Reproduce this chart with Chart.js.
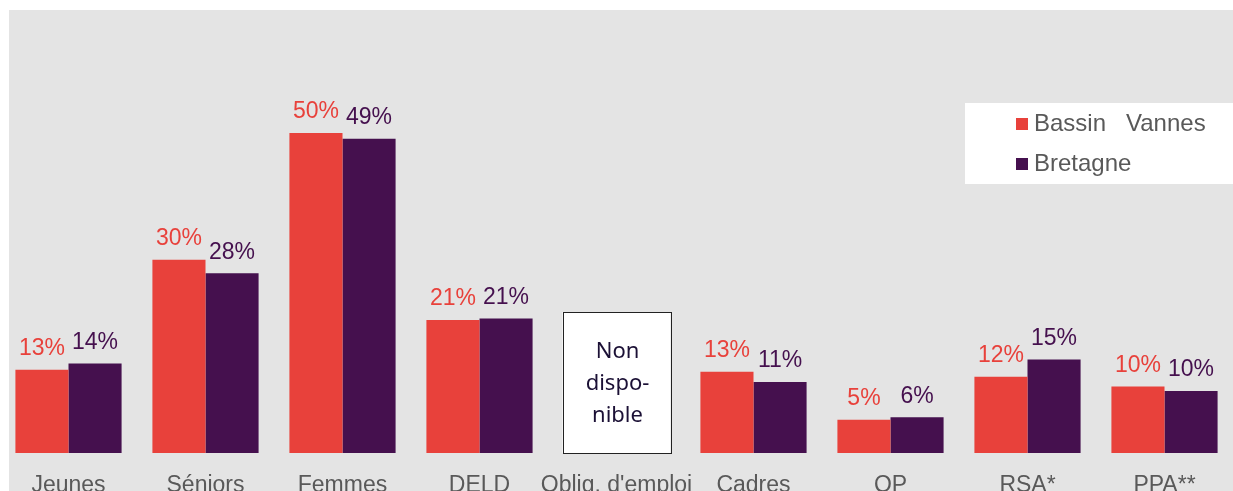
<!DOCTYPE html>
<html>
<head>
<meta charset="utf-8">
<script src="https://cdn.jsdelivr.net/npm/chart.js@4.4.0/dist/chart.umd.min.js"></script>
<style>
  html, body { margin: 0; padding: 0; background: #fff; }
  #wrap { width: 1233px; height: 491px; position: relative; }
</style>
</head>
<body>
<div id="wrap"><canvas id="chart"></canvas></div>
<script>
// values (percent)
const categories = ['Jeunes', 'Séniors', 'Femmes', 'DELD', "Oblig. d'emploi", 'Cadres', 'QP', 'RSA*', 'PPA**'];
const bassinVannes = [13, 30.2, 50, 20.8, 0, 12.7, 5.2, 11.9, 10.4];
const bretagne = [14, 28.1, 49.1, 21, 0, 11.1, 5.6, 14.6, 9.7];
const missingIndex = 4; // "Non disponible"
const missingText = ['Non', 'dispo-', 'nible'];

const RED = '#E8413B';
const PURPLE = '#45104E';
const GREY_TEXT = '#595959';

// grey panel behind everything
const panelBg = {
    id: 'panelBg',
    beforeDraw(chart) {
        const c = chart.ctx;
        c.save();
        c.fillStyle = '#E4E4E4';
        c.fillRect(9, 10, chart.width - 9, chart.height - 10);
        c.restore();
    }
};

// value labels above bars + the "non disponible" box
const barLabels = {
    id: 'barLabels',
    afterDatasetsDraw(chart) {
        const c = chart.ctx;
        c.save();
        c.font = '23px "Liberation Sans", Arial, sans-serif';
        c.textAlign = 'center';
        c.textBaseline = 'middle';
        chart.data.datasets.forEach((ds, i) => {
            const meta = chart.getDatasetMeta(i);
            meta.data.forEach((bar, j) => {
                if (j === missingIndex) return;
                c.fillStyle = ds.backgroundColor;
                c.fillText(Math.round(ds.data[j]) + '%', bar.x, bar.y - 21);
            });
        });

        // box over the unavailable category
        const cx = chart.scales.x.getPixelForValue(missingIndex);
        const bottom = chart.scales.y.getPixelForValue(0);
        const bw = 108, bh = 141;
        c.fillStyle = '#fff';
        c.fillRect(cx - bw / 2, bottom - bh, bw, bh);
        c.strokeStyle = '#222';
        c.lineWidth = 1;
        c.strokeRect(Math.round(cx - bw / 2) + 0.5, bottom - bh + 0.5, bw, bh);
        c.fillStyle = '#1B1035';
        c.font = '22px "Noto Sans", sans-serif';
        missingText.forEach((t, k) => {
            c.fillText(t, cx + 1, bottom - bh + 40 + k * 32);
        });
        c.restore();
    }
};

// legend in a white box at the top right
const boxLegend = {
    id: 'boxLegend',
    afterDraw(chart) {
        const c = chart.ctx;
        c.save();
        c.fillStyle = '#fff';
        c.fillRect(965, 103, chart.width - 965, 81);
        c.font = '24px "Liberation Sans", Arial, sans-serif';
        c.textBaseline = 'middle';
        c.textAlign = 'left';
        chart.data.datasets.forEach((ds, i) => {
            const y = 124 + i * 40;
            c.fillStyle = ds.backgroundColor;
            c.fillRect(1016, y - 6, 12, 12);
            c.fillStyle = GREY_TEXT;
            c.fillText(ds.label, 1034, y);
        });
        c.restore();
    }
};

new Chart(document.getElementById('chart'), {
    type: 'bar',
    data: {
        labels: categories,
        datasets: [
            { label: 'Bassin   Vannes', data: bassinVannes, backgroundColor: RED },
            { label: 'Bretagne', data: bretagne, backgroundColor: PURPLE }
        ]
    },
    options: {
        responsive: true,
        maintainAspectRatio: false,
        animation: false,
        layout: { padding: { top: 69, left: 0, right: 0, bottom: 0 } },
        datasets: { bar: { categoryPercentage: 0.775, barPercentage: 1 } },
        plugins: {
            legend: { display: false },
            tooltip: { enabled: false }
        },
        scales: {
            x: {
                grid: { display: false, drawTicks: false },
                border: { display: false },
                ticks: {
                    color: GREY_TEXT,
                    padding: 19,
                    maxRotation: 0,
                    autoSkip: false,
                    font: { family: '"Liberation Sans", Arial, sans-serif', size: 23 }
                },
                afterFit(scale) { scale.height = 38; }
            },
            y: {
                display: false,
                min: 0,
                max: 60
            }
        }
    },
    plugins: [panelBg, barLabels, boxLegend]
});
</script>
</body>
</html>
